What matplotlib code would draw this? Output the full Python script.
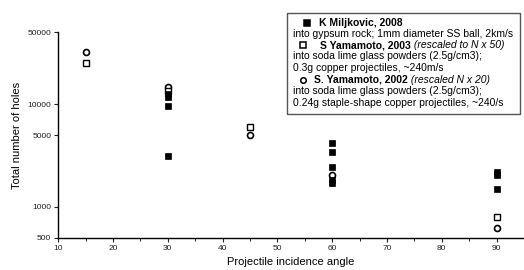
#!/usr/bin/env python3
'''Total number of holes vs projectile incidence angle'''
import matplotlib
matplotlib.use('Agg')
import matplotlib.pyplot as plt
from matplotlib.lines import Line2D
from matplotlib.patches import Rectangle

plt.rcParams['font.family'] = ['Liberation Sans', 'DejaVu Sans']

# K Miljkovic, 2008 (filled squares)
milj_angle = [30, 30, 30, 30, 60, 60, 60, 60, 60, 90, 90, 90]
milj_holes = [12400, 11800, 9600, 3100, 4200, 3400, 2450, 1830, 1700, 2200, 2050, 1480]
# S Yamamoto, 2003, rescaled N x 50 (open squares)
yam03_angle = [15, 30, 45, 90]
yam03_holes = [25200, 13400, 6000, 790]
# S. Yamamoto, 2002, rescaled N x 20 (open circles)
yam02_angle = [15, 30, 45, 60, 90]
yam02_holes = [31900, 14500, 5000, 2050, 620]

yticks = [500, 1000, 5000, 10000, 50000]
xticks = [10, 20, 30, 40, 50, 60, 70, 80, 90]


def plot():
    '''Write plot'''
    fig = plt.figure(figsize=(5.24, 2.70), dpi=100)
    ax = fig.add_axes([0.111, 0.119, 0.889, 0.762])
    ax.set_yscale('log')
    ax.set_xlim(10, 95)
    ax.set_ylim(500, 50000)

    ax.plot(yam02_angle, yam02_holes, linestyle='none', marker='o', ms=4.3,
            mfc='white', mec='black', mew=1.2)
    ax.plot(yam03_angle, yam03_holes, linestyle='none', marker='s', ms=4.3,
            mfc='white', mec='black', mew=1.0)
    ax.plot(milj_angle, milj_holes, linestyle='none', marker='s', ms=4.3,
            mfc='black', mec='black', mew=0.5)

    for side in ('top', 'right'):
        ax.spines[side].set_visible(False)
    ax.spines['left'].set_linewidth(1.0)
    ax.spines['bottom'].set_linewidth(1.0)

    ax.set_yticks(yticks)
    ax.set_yticklabels([str(v) for v in yticks])
    ax.yaxis.set_minor_locator(matplotlib.ticker.NullLocator())
    ax.set_xticks(xticks)
    ax.set_xticks([15, 25, 35, 45, 55, 65, 75, 85], minor=True)
    ax.tick_params(axis='both', which='major', labelsize=6, length=3,
                   width=0.8, colors='#222222', pad=2)
    ax.tick_params(axis='x', which='minor', length=2, width=0.6)

    ax.set_xlabel('Projectile incidence angle', fontsize=8, labelpad=4)
    ax.set_ylabel('Total number of holes', fontsize=8, labelpad=4)

    # legend box drawn by hand (mixed bold / italic text)
    W, H = 524.0, 270.0
    fig.patches.append(Rectangle((287 / W, 1 - 114 / H), 233 / W, 101 / H,
                                 transform=fig.transFigure, fill=False,
                                 edgecolor='#555555', linewidth=1.0))
    fs = 7.5
    desc_x = 293 / W
    rows = [
        ('head', 's', 'black', 'K Miljkovic, 2008', ''),
        ('desc', 'into gypsum rock; 1mm diameter SS ball, 2km/s'),
        ('head', 's', 'white', 'S Yamamoto, 2003', ' (rescaled to N x 50)'),
        ('desc', 'into soda lime glass powders (2.5g/cm3);'),
        ('desc', '0.3g copper projectiles, ~240m/s'),
        ('head', 'o', 'white', 'S. Yamamoto, 2002', ' (rescaled N x 20)'),
        ('desc', 'into soda lime glass powders (2.5g/cm3);'),
        ('desc', '0.24g staple-shape copper projectiles, ~240/s'),
    ]
    row_y = [22.7, 33.7, 45.3, 56.3, 68.3, 80.0, 90.7, 102.5]
    head_x = [319, 320, 314]
    mark_x = [307, 303, 303]
    hi = 0
    for row, yp in zip(rows, row_y):
        yf = 1 - yp / H
        if row[0] == 'desc':
            fig.text(desc_x, yf, row[1], fontsize=fs, va='center', ha='left')
        else:
            _, mk, fc, name, note = row
            fig.lines.append(Line2D([mark_x[hi] / W], [yf],
                                    transform=fig.transFigure,
                                    marker=mk, ms=4, mfc=fc, mec='black',
                                    mew=1.1, linestyle='none'))
            t = fig.text(head_x[hi] / W, yf, name, fontsize=fs,
                         fontweight='bold', va='center', ha='left')
            if note:
                ax.annotate(note, xy=(1, 0.5), xycoords=t, fontsize=fs,
                            fontstyle='italic', va='center', ha='left',
                            annotation_clip=False)
            hi += 1

    fig.savefig('out.png', dpi=100)


if __name__ == '__main__':
    plot()
